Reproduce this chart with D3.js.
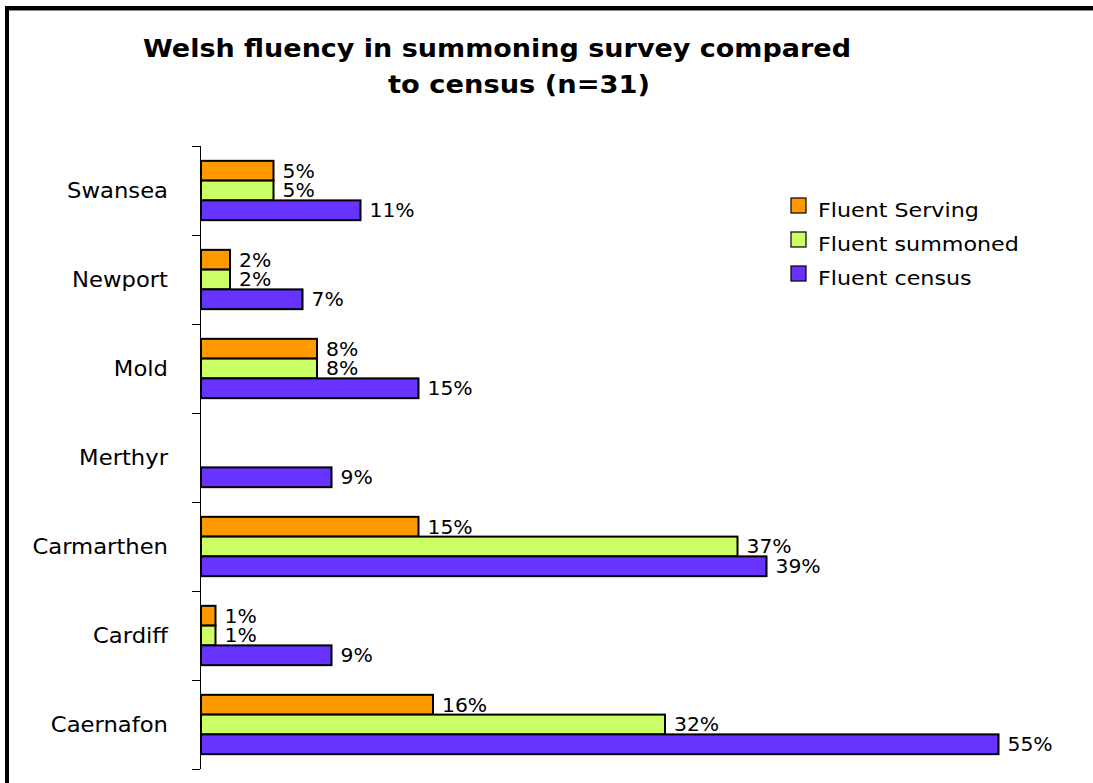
<!DOCTYPE html>
<html>
<head>
<meta charset="utf-8">
<script src="https://cdn.jsdelivr.net/npm/d3@7"></script>
<style>
  html, body { margin: 0; padding: 0; background: #fff; }
  svg { display: block; font-family: Verdana, "DejaVu Sans", sans-serif; }
</style>
</head>
<body>
<svg id="chart" width="1093" height="783"></svg>
<script>
// Towns, top to bottom
const towns = ["Swansea", "Newport", "Mold", "Merthyr", "Carmarthen", "Cardiff", "Caernafon"];
const seriesNames = ["Fluent Serving", "Fluent summoned", "Fluent census"];
const seriesColors = ["#FF9900", "#CCFF66", "#6633FF"];
// Percentages per town (null = no bar)
const fluentServing   = [5, 2, 8, null, 15, 1, 16];
const fluentSummoned  = [5, 2, 8, null, 37, 1, 32];
const fluentCensus    = [11, 7, 15, 9, 39, 9, 55];
const titleLines = ["Welsh fluency in summoning survey compared", "to census (n=31)"];

const seriesValues = [fluentServing, fluentSummoned, fluentCensus];

const svg = d3.select("#chart");

// Widen a text horizontally by a factor (Verdana-like proportions)
function widen(sel, k) {
  sel.each(function () {
    const w = this.getComputedTextLength();
    d3.select(this).attr("textLength", w * k).attr("lengthAdjust", "spacingAndGlyphs");
  });
}

// Outer frame: heavy top and left rule
svg.append("rect").attr("x", 5).attr("y", 6).attr("width", 1088).attr("height", 4).attr("fill", "#000");
svg.append("rect").attr("x", 5).attr("y", 10).attr("width", 1088).attr("height", 1).attr("fill", "#888");
svg.append("rect").attr("x", 5).attr("y", 6).attr("width", 4).attr("height", 777).attr("fill", "#000");

// Title
const titleX = [497, 519];
const titleY = [57, 93];
const titleW = [708, 262];
titleLines.forEach((t, i) => {
  svg.append("text")
    .attr("x", titleX[i]).attr("y", titleY[i])
    .attr("text-anchor", "middle")
    .attr("font-weight", "bold")
    .attr("font-size", 25)
    .attr("fill", "#000")
    .attr("textLength", titleW[i])
    .attr("lengthAdjust", "spacingAndGlyphs")
    .text(t);
});

// Scales
const x = d3.scaleLinear().domain([0, 60]).range([201, 201 + 60 * 14.5]);
const y = d3.scaleBand().domain(towns).range([146, 769]).padding(0);
const step = y.bandwidth();
const ySub = d3.scaleBand().domain(d3.range(seriesNames.length))
  .range([step / 6, step * 5 / 6]).padding(0);

// Category axis with ticks at band boundaries
const axisG = svg.append("g");
axisG.append("line")
  .attr("x1", 200.5).attr("x2", 200.5)
  .attr("y1", y.range()[0]).attr("y2", y.range()[1])
  .attr("stroke", "#000").attr("stroke-width", 1);
const boundaries = towns.map(t => y(t)).concat([y.range()[1]]);
axisG.selectAll("line.tick").data(boundaries).join("line")
  .attr("class", "tick")
  .attr("x1", 192).attr("x2", 200)
  .attr("y1", d => Math.round(d) + 0.5).attr("y2", d => Math.round(d) + 0.5)
  .attr("stroke", "#000").attr("stroke-width", 1);
axisG.selectAll("text.cat").data(towns).join("text")
  .attr("class", "cat")
  .attr("x", 168)
  .attr("y", d => y(d) + step / 2)
  .attr("dy", "0.36em")
  .attr("text-anchor", "end")
  .attr("font-size", 21)
  .attr("fill", "#000")
  .text(d => d)
  .call(widen, 1.08);

// Bars and value labels
const rows = [];
towns.forEach((t, ti) => {
  seriesValues.forEach((vals, si) => {
    if (vals[ti] != null) rows.push({ town: t, s: si, v: vals[ti] });
  });
});

const barsG = svg.append("g");
barsG.selectAll("rect").data(rows).join("rect")
  .attr("x", x(0))
  .attr("y", d => y(d.town) + ySub(d.s))
  .attr("width", d => x(d.v) - x(0))
  .attr("height", ySub.bandwidth())
  .attr("fill", d => seriesColors[d.s])
  .attr("stroke", "#000")
  .attr("stroke-width", 2);

barsG.selectAll("text").data(rows).join("text")
  .attr("x", d => x(d.v) + 9)
  .attr("y", d => y(d.town) + ySub(d.s) + ySub.bandwidth() / 2)
  .attr("dy", "0.36em")
  .attr("font-size", 19)
  .attr("fill", "#000")
  .text(d => d.v + "%")
  .call(widen, 1.07);

// Legend
const legend = svg.append("g");
seriesNames.forEach((name, i) => {
  const ly = 198 + i * 34;
  legend.append("rect")
    .attr("x", 791).attr("y", ly).attr("width", 15).attr("height", 15)
    .attr("fill", seriesColors[i]).attr("stroke", "#000").attr("stroke-width", 1.2);
  legend.append("text")
    .attr("x", 818).attr("y", ly + 19)
    .attr("font-size", 20).attr("fill", "#000")
    .text(name)
    .call(widen, 1.11);
});
</script>
</body>
</html>
